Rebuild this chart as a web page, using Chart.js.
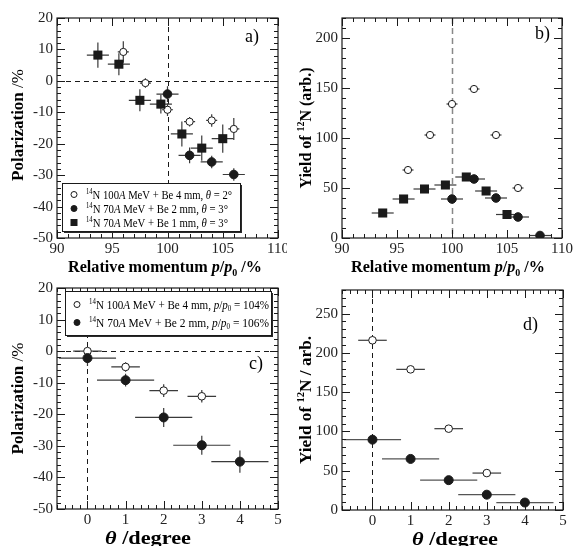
<!DOCTYPE html>
<html lang="en">
<head>
<meta charset="UTF-8">
<title>12N polarization and yield</title>
<script src="https://cdn.jsdelivr.net/npm/chart.js"></script>
<style>
    body { margin: 0; background: #fff; }
    .wrap { position: relative; width: 574px; height: 546px; overflow: hidden; }
    canvas { position: absolute; }
</style>
</head>
<body>
<div class="wrap">
    <canvas id="pa" width="287" height="285" style="left:0;top:0"></canvas>
    <canvas id="pb" width="289" height="285" style="left:285px;top:0"></canvas>
    <canvas id="pc" width="287" height="276" style="left:0;top:270px"></canvas>
    <canvas id="pd" width="289" height="276" style="left:285px;top:270px"></canvas>
</div>
<script>
// ---- panel a) polarization vs momentum ----
const aOpenX = [96, 98, 100, 102, 104, 106];
const aOpenY = [9.2, -0.7, -9.2, -13, -12.6, -15.3];
const aOpenYErr = [3.4, 1.5, 2, 1.5, 2, 3.5];
const aFilledX = [100, 102, 104, 106];
const aFilledY = [-4.2, -23.7, -25.8, -29.8];
const aFilledYErr = [2.5, 2.5, 2, 2];
const aSquareX = [93.7, 95.6, 97.5, 99.4, 101.3, 103.1, 105.0];
const aSquareY = [8.2, 5.3, -6.2, -7.4, -16.9, -21.4, -18.4];
const aSquareYErr = [4, 3.5, 3.5, 3, 4, 4, 4.5];

// ---- panel b) yield vs momentum ----
const bOpenX = [96, 98, 100, 102, 104, 106];
const bOpenY = [68, 103, 134, 149, 103, 50];
const bFilledX = [100, 102, 104, 106, 108];
const bFilledY = [39, 59, 40, 21, 2.5];
const bSquareX = [93.7, 95.6, 97.5, 99.4, 101.3, 103.1, 105.0];
const bSquareY = [25, 39, 49, 53, 61, 47, 23.5];

// ---- panel c) polarization vs angle ----
const cOpenX = [0, 1, 2, 3];
const cOpenY = [0, -5, -12.5, -14.3];
const cOpenYErr = [1, 1.5, 2, 2];
const cFilledX = [0, 1, 2, 3, 4];
const cFilledY = [-2.2, -9.2, -21, -29.8, -35];
const cFilledYErr = [2.5, 2, 3, 3, 3.5];

// ---- panel d) yield vs angle ----
const dOpenX = [0, 1, 2, 3];
const dOpenY = [216, 179, 103.5, 47];
const dFilledX = [0, 1, 2, 3, 4];
const dFilledY = [89.5, 65, 38, 19.5, 9.5];

const SERIF = '"Liberation Serif", "Times New Roman", serif';
const INK = '#1a1a1a';

function pts(xs, ys) {
    return xs.map((x, i) => ({ x: x, y: ys[i] }));
}

// text made of runs (superscript, subscript, italic, bold); optional target width
function runFont(r, size, bold) {
    const s = (r.sup || r.sub) ? size * 0.62 : size;
    const b = r.b !== undefined ? r.b : bold;
    return (r.it ? 'italic ' : '') + (b ? 'bold ' : '') + s + 'px ' + SERIF;
}
function drawRuns(ctx, runs, x, y, size, align, bold, fitW) {
    let w = 0;
    runs.forEach(r => { ctx.font = runFont(r, size, bold); r.w = ctx.measureText(r.t).width; w += r.w; });
    const k = fitW ? fitW / w : 1;
    const total = w * k;
    const x0 = align === 'center' ? x - total / 2 : (align === 'right' ? x - total : x);
    ctx.save();
    ctx.translate(x0, y);
    ctx.scale(k, 1);
    ctx.textAlign = 'left';
    ctx.textBaseline = 'alphabetic';
    let cx = 0;
    runs.forEach(r => {
        ctx.font = runFont(r, size, bold);
        const dy = r.sup ? -size * 0.4 : (r.sub ? size * 0.22 : 0);
        ctx.fillText(r.t, cx, dy);
        cx += r.w;
    });
    ctx.restore();
}

function marker(ctx, kind, x, y, r) {
    ctx.save();
    ctx.lineWidth = 1;
    ctx.strokeStyle = INK;
    ctx.fillStyle = kind === 'open' ? '#fff' : INK;
    if (kind === 'square') {
        ctx.fillRect(x - r, y - r, 2 * r, 2 * r);
    } else {
        ctx.beginPath();
        ctx.arc(x, y, r, 0, Math.PI * 2);
        ctx.fill();
        ctx.stroke();
    }
    ctx.restore();
}

const deco = {
    id: 'deco',
    beforeDatasetsDraw(chart, args, o) {
        const ctx = chart.ctx, a = chart.chartArea;
        const xs = chart.scales.x, ys = chart.scales.y;
        ctx.save();
        // dashed reference lines
        (o.dashes || []).forEach(d => {
            ctx.strokeStyle = d.color || INK;
            ctx.lineWidth = d.width || 1;
            ctx.setLineDash(d.dash || [5, 4]);
            ctx.beginPath();
            if (d.x !== undefined) {
                const px = Math.round(xs.getPixelForValue(d.x)) + 0.5;
                ctx.moveTo(px, a.top); ctx.lineTo(px, a.bottom);
            } else {
                const py = Math.round(ys.getPixelForValue(d.y)) + 0.5;
                ctx.moveTo(a.left, py); ctx.lineTo(a.right, py);
            }
            ctx.stroke();
        });
        ctx.setLineDash([]);
        // error bars
        chart.data.datasets.forEach((ds, i) => {
            const meta = chart.getDatasetMeta(i);
            ctx.strokeStyle = ds.errColor || '#3a3a3a';
            ctx.lineWidth = 1.2;
            ds.data.forEach((p, j) => {
                const el = meta.data[j];
                const ex = Array.isArray(ds.errX) ? ds.errX[j] : ds.errX;
                const ey = ds.errY ? ds.errY[j] : 0;
                ctx.beginPath();
                if (ex) {
                    ctx.moveTo(Math.max(a.left, xs.getPixelForValue(p.x - ex)), el.y);
                    ctx.lineTo(Math.min(a.right, xs.getPixelForValue(p.x + ex)), el.y);
                }
                if (ey) {
                    ctx.moveTo(el.x, ys.getPixelForValue(p.y - ey));
                    ctx.lineTo(el.x, ys.getPixelForValue(p.y + ey));
                }
                ctx.stroke();
            });
        });
        ctx.restore();
    },
    afterDraw(chart, args, o) {
        const ctx = chart.ctx, a = chart.chartArea;
        const xs = chart.scales.x, ys = chart.scales.y;
        ctx.save();
        ctx.strokeStyle = INK;
        ctx.fillStyle = INK;
        ctx.lineWidth = 1.2;
        ctx.strokeRect(a.left, a.top, a.right - a.left, a.bottom - a.top);
        ctx.lineWidth = 1;
        // inward ticks on all four sides
        const tickRun = (sc, minor, major, horiz) => {
            const n = Math.round((sc.max - sc.min) / minor);
            for (let k = 0; k <= n; k++) {
                const v = sc.min + k * minor;
                const isMaj = Math.abs(v / major - Math.round(v / major)) < 1e-6;
                const len = isMaj ? 8 : 4;
                const p = Math.round(sc.getPixelForValue(v)) + 0.5;
                ctx.beginPath();
                if (horiz) {
                    ctx.moveTo(p, a.bottom); ctx.lineTo(p, a.bottom - len);
                    ctx.moveTo(p, a.top); ctx.lineTo(p, a.top + len);
                } else {
                    ctx.moveTo(a.left, p); ctx.lineTo(a.left + len, p);
                    ctx.moveTo(a.right, p); ctx.lineTo(a.right - len, p);
                }
                ctx.stroke();
            }
        };
        tickRun(xs, o.xMinor, o.xMajor, true);
        tickRun(ys, o.yMinor, o.yMajor, false);

        // axis titles
        ctx.fillStyle = '#000';
        const xt = o.xTitle;
        drawRuns(ctx, xt.runs, xt.cx !== undefined ? xt.cx : (a.left + a.right) / 2, xt.y, xt.size, 'center', true, xt.w);
        const yt = o.yTitle;
        ctx.save();
        ctx.translate(yt.x, (a.top + a.bottom) / 2 + (yt.dy || 0));
        ctx.rotate(-Math.PI / 2);
        drawRuns(ctx, yt.runs, 0, 6, yt.size, 'center', true, yt.w);
        ctx.restore();

        // panel label
        ctx.font = '18px ' + SERIF;
        ctx.textAlign = 'right';
        ctx.textBaseline = 'middle';
        ctx.fillText(o.tag.t, o.tag.x, o.tag.y);

        // framed legend with a small drop shadow
        if (o.legend) {
            const L = o.legend;
            ctx.fillStyle = '#2a2a2a';
            ctx.fillRect(L.x + 2, L.y + 2, L.w, L.h);
            ctx.fillStyle = '#fff';
            ctx.fillRect(L.x, L.y, L.w, L.h);
            ctx.strokeStyle = INK;
            ctx.lineWidth = 1;
            ctx.strokeRect(L.x + 0.5, L.y + 0.5, L.w, L.h);
            L.rows.forEach((r, i) => {
                const ry = L.y + L.first + i * L.gap;
                marker(ctx, r.kind, L.x + L.mx, ry, r.kind === 'square' ? 3.5 : 3);
                ctx.fillStyle = '#000';
                drawRuns(ctx, r.text, L.x + L.tx, ry + 4, 12, 'left', false, L.tw[i]);
            });
        }
        ctx.restore();
    }
};

const openStyle = { pointStyle: 'circle', backgroundColor: '#fff', borderColor: INK, borderWidth: 1 };
const fillStyle = { pointStyle: 'circle', backgroundColor: INK, borderColor: INK, borderWidth: 1 };
const sqStyle = { pointStyle: 'rect', backgroundColor: INK, borderColor: INK, borderWidth: 0 };

function makeChart(id, c) {
    const tickFont = { family: SERIF, size: 15 };
    return new Chart(document.getElementById(id), {
        type: 'scatter',
        data: { datasets: c.datasets },
        options: {
            responsive: false,
            animation: false,
            devicePixelRatio: 1,
            events: [],
            layout: { padding: c.pad },
            plugins: { legend: { display: false }, tooltip: { enabled: false }, deco: c.deco },
            scales: {
                x: {
                    type: 'linear', min: c.x.min, max: c.x.max,
                    afterFit: s => { s.height = c.x.h; s.paddingLeft = 0; s.paddingRight = 0; },
                    ticks: { stepSize: c.x.step, includeBounds: false, font: tickFont, color: '#222', padding: 2, maxRotation: 0, autoSkip: false },
                    grid: { display: false, drawTicks: false },
                    border: { display: false }
                },
                y: {
                    type: 'linear', min: c.y.min, max: c.y.max,
                    afterFit: s => { s.width = c.y.w; s.paddingTop = 0; s.paddingBottom = 0; },
                    ticks: { stepSize: c.y.step, includeBounds: false, font: tickFont, color: '#222', padding: 4, autoSkip: false },
                    grid: { display: false, drawTicks: false },
                    border: { display: false }
                }
            }
        },
        plugins: [deco]
    });
}

const momRuns = [{ t: 'Relative momentum ' }, { t: 'p', it: true }, { t: '/' }, { t: 'p', it: true }, { t: '0', sub: true }, { t: ' /%' }];
const polRuns = [{ t: 'Polarization' }, { t: ' /%', b: false }];
const angRuns = [{ t: 'θ', it: true }, { t: ' /degree' }];

const legA = [
    { kind: 'open', text: [{ t: '14', sup: true }, { t: 'N 100' }, { t: 'A', it: true }, { t: ' MeV + Be 4 mm, ' }, { t: 'θ', it: true }, { t: ' = 2°' }] },
    { kind: 'filled', text: [{ t: '14', sup: true }, { t: 'N 70' }, { t: 'A', it: true }, { t: ' MeV + Be 2 mm, ' }, { t: 'θ', it: true }, { t: ' = 3°' }] },
    { kind: 'square', text: [{ t: '14', sup: true }, { t: 'N 70' }, { t: 'A', it: true }, { t: ' MeV + Be 1 mm, ' }, { t: 'θ', it: true }, { t: ' = 3°' }] }
];
const legC = [
    { kind: 'open', text: [{ t: '14', sup: true }, { t: 'N 100' }, { t: 'A', it: true }, { t: ' MeV + Be 4 mm, ' }, { t: 'p', it: true }, { t: '/' }, { t: 'p', it: true }, { t: '0', sub: true }, { t: ' = 104%' }] },
    { kind: 'filled', text: [{ t: '14', sup: true }, { t: 'N 70' }, { t: 'A', it: true }, { t: ' MeV + Be 2 mm, ' }, { t: 'p', it: true }, { t: '/' }, { t: 'p', it: true }, { t: '0', sub: true }, { t: ' = 106%' }] }
];

// a)
makeChart('pa', {
    pad: { top: 18, right: 9, bottom: 0, left: 0 },
    x: { min: 90, max: 110, step: 5, h: 47 },
    y: { min: -50, max: 20, step: 10, w: 57 },
    datasets: [
        Object.assign({ data: pts(aSquareX, aSquareY), errX: 1, errY: aSquareYErr, pointRadius: 6.4 }, sqStyle),
        Object.assign({ data: pts(aFilledX, aFilledY), errX: 1, errY: aFilledYErr, pointRadius: 4.3 }, fillStyle),
        Object.assign({ data: pts(aOpenX, aOpenY), errX: 0.5, errY: aOpenYErr, pointRadius: 3.6 }, openStyle)
    ],
    deco: {
        xMinor: 1, xMajor: 5, yMinor: 2, yMajor: 10,
        dashes: [{ x: 100 }, { y: 0 }],
        xTitle: { runs: momRuns, y: 272, size: 17, w: 194, cx: 165 },
        yTitle: { runs: polRuns, x: 17, size: 17, dy: -3 },
        tag: { t: 'a)', x: 259, y: 37 },
        legend: { x: 62, y: 183, w: 178, h: 48, first: 11.5, gap: 14, mx: 12, tx: 24, tw: [146, 142, 142], rows: legA }
    }
});

// b)
makeChart('pb', {
    pad: { top: 18, right: 12, bottom: 0, left: 0 },
    x: { min: 90, max: 110, step: 5, h: 47 },
    y: { min: 0, max: 220, step: 50, w: 57 },
    datasets: [
        Object.assign({ data: pts(bSquareX, bSquareY), errX: 1, pointRadius: 6.4 }, sqStyle),
        Object.assign({ data: pts(bFilledX, bFilledY), errX: 1, pointRadius: 4.3 }, fillStyle),
        Object.assign({ data: pts(bOpenX, bOpenY), errX: 0.5, pointRadius: 3.6 }, openStyle)
    ],
    deco: {
        xMinor: 1, xMajor: 5, yMinor: 10, yMajor: 50,
        dashes: [{ x: 100, color: '#888', width: 1.5, dash: [6, 4] }],
        xTitle: { runs: momRuns, y: 272, size: 17, w: 194, cx: 163 },
        yTitle: { runs: [{ t: 'Yield of ' }, { t: '12', sup: true }, { t: 'N (arb.)' }], x: 20, size: 17, w: 121 },
        tag: { t: 'b)', x: 265, y: 34 }
    }
});

// c)
makeChart('pc', {
    pad: { top: 18, right: 9, bottom: 0, left: 0 },
    x: { min: -0.8, max: 5, step: 1, h: 37 },
    y: { min: -50, max: 20, step: 10, w: 57 },
    datasets: [
        Object.assign({ data: pts(cFilledX, cFilledY), errX: 0.75, errY: cFilledYErr, pointRadius: 4.5 }, fillStyle),
        Object.assign({ data: pts(cOpenX, cOpenY), errX: 0.375, errY: cOpenYErr, pointRadius: 3.8 }, openStyle)
    ],
    deco: {
        xMinor: 0.2, xMajor: 1, yMinor: 2, yMajor: 10,
        dashes: [{ x: 0 }, { y: 0 }],
        xTitle: { runs: angRuns, y: 274, size: 19, w: 86, cx: 148 },
        yTitle: { runs: polRuns, x: 17, size: 17 },
        tag: { t: 'c)', x: 263, y: 94 },
        legend: { x: 65, y: 21, w: 206, h: 44, first: 13.5, gap: 18, mx: 12, tx: 24, tw: [180, 180], rows: legC }
    }
});

// d)
makeChart('pd', {
    pad: { top: 20, right: 11, bottom: 0, left: 0 },
    x: { min: -0.8, max: 5, step: 1, h: 36 },
    y: { min: 0, max: 280, step: 50, w: 57 },
    datasets: [
        Object.assign({ data: pts(dFilledX, dFilledY), errX: 0.75, errColor: '#555', pointRadius: 4.5 }, fillStyle),
        Object.assign({ data: pts(dOpenX, dOpenY), errX: 0.375, pointRadius: 3.8 }, openStyle)
    ],
    deco: {
        xMinor: 0.2, xMajor: 1, yMinor: 10, yMajor: 50,
        dashes: [{ x: 0 }],
        xTitle: { runs: angRuns, y: 275, size: 19, w: 86, cx: 170 },
        yTitle: { runs: [{ t: 'Yield of ' }, { t: '12', sup: true }, { t: 'N / arb.' }], x: 20, size: 17, w: 128 },
        tag: { t: 'd)', x: 253, y: 55 }
    }
});
</script>
</body>
</html>
